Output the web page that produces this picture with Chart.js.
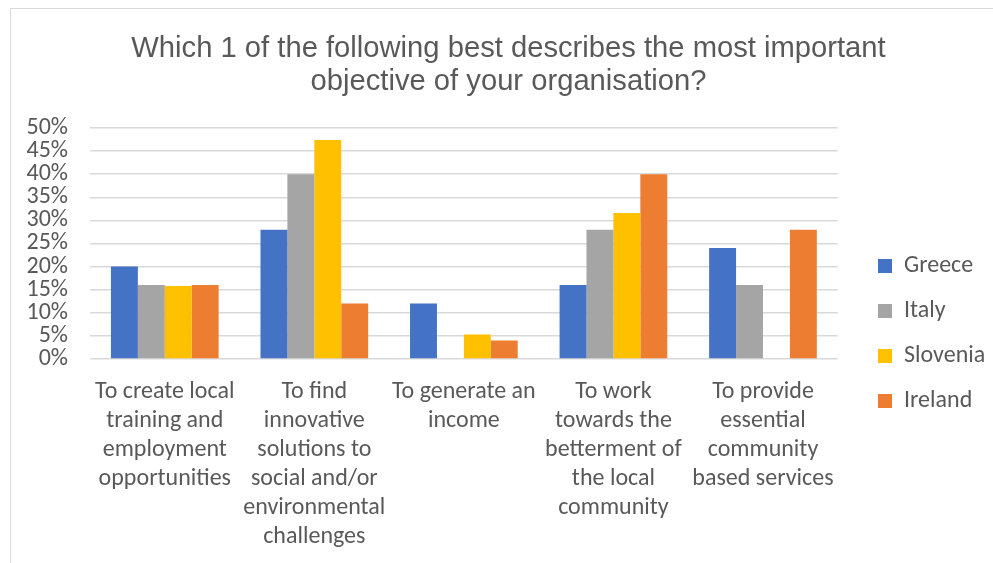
<!DOCTYPE html>
<html>
<head>
<meta charset="utf-8">
<script src="https://cdn.jsdelivr.net/npm/chart.js@4.4.1/dist/chart.umd.min.js"></script>
<style>
  html, body { margin:0; padding:0; background:#fff; overflow:hidden; }
  #box { position:absolute; left:10px; top:8px; width:983px; height:555px;
         border-left:1px solid #d9d9d9; border-top:1px solid #d9d9d9; }
</style>
</head>
<body>
<div id="box"><canvas id="chart"></canvas></div>
<script>
const TITLE = ['Which 1 of the following best describes the most important', 'objective of your organisation?'];

const categories = [
  ['To create local', 'training and', 'employment', 'opportunities'],
  ['To find', 'innovative', 'solutions to', 'social and/or', 'environmental', 'challenges'],
  ['To generate an', 'income'],
  ['To work', 'towards the', 'betterment of', 'the local', 'community'],
  ['To provide', 'essential', 'community', 'based services'],
];

// percent of respondents
const greece   = [20, 28, 12, 16, 24];
const italy    = [16, 40, 0, 28, 16];
const slovenia = [15.8, 47.4, 5.3, 31.6, 0];
const ireland  = [16, 12, 4, 40, 28];

const yTicks = [0, 5, 10, 15, 20, 25, 30, 35, 40, 45, 50];

const FONT = 'Carlito, Lato, "Open Sans", sans-serif';
const GREY = '#595959';

// Excel places legend and title a bit differently than Chart.js, nudge them after layout
const boxShift = {
  id: 'boxShift',
  afterLayout(chart){
    const lg = chart.legend;
    if (lg){
      const h = lg.bottom - lg.top;
      const w = lg.right - lg.left;
      lg.top = 224; lg.bottom = lg.top + h;
      lg.left = 846; lg.right = lg.left + w;
    }
    const tb = chart.titleBlock;
    if (tb){ tb.left += 15; tb.right += 15; }
  }
};

new Chart(document.getElementById('chart'), {
  type: 'bar',
  data: {
    labels: categories,
    datasets: [
      { label:'Greece',   data:greece,   backgroundColor:'#4472C4' },
      { label:'Italy',    data:italy,    backgroundColor:'#A5A5A5' },
      { label:'Slovenia', data:slovenia, backgroundColor:'#FFC000' },
      { label:'Ireland',  data:ireland,  backgroundColor:'#ED7D31' },
    ]
  },
  options: {
    responsive:true, maintainAspectRatio:false, animation:false,
    layout: { padding:{ left:0, right:18, top:0, bottom:0 } },
    datasets: { bar: { categoryPercentage:0.72, barPercentage:1 } },
    plugins: {
      title: {
        display:true, text:TITLE, color:GREY,
        font:{ family:'"Liberation Sans", Arial, sans-serif', size:29.2, weight:'normal', lineHeight:1.13 },
        padding:{ top:23, bottom:30 }
      },
      legend: {
        position:'right', align:'start',
        labels: { color:GREY, boxWidth:14, boxHeight:14, padding:21,
                  font:{ family:FONT, size:24 } }
      },
      tooltip: { enabled:false }
    },
    scales: {
      x: {
        grid:{ display:false },
        border:{ display:false },
        afterFit: axis => { axis.height = 205; },
        ticks:{ color:GREY, maxRotation:0, autoSkip:false, padding:10,
                font:{ family:FONT, size:24, lineHeight:1.21 } }
      },
      y: {
        min:0, max:50,
        afterBuildTicks: axis => { axis.ticks = yTicks.map(v => ({ value:v })); },
        afterFit: axis => { axis.width = 79; },
        grid:{ color:'#d9d9d9', lineWidth:1.5, drawTicks:false },
        border:{ display:false },
        ticks:{ color:GREY, padding:22, autoSkip:false, callback:v => v + '%',
                font:{ family:FONT, size:24 } }
      }
    }
  },
  plugins: [boxShift]
});
</script>
</body>
</html>
